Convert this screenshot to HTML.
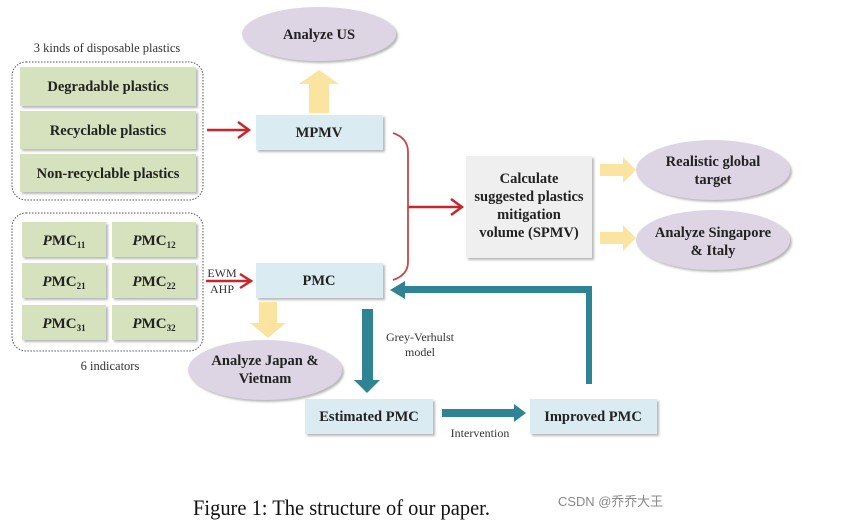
<!DOCTYPE html>
<html><head><meta charset="utf-8"><style>
html,body{margin:0;padding:0;background:#fff;width:848px;height:520px;overflow:hidden}
svg text{font-family:"Liberation Serif",serif}
</style></head><body>
<svg width="848" height="520" viewBox="0 0 848 520" xmlns="http://www.w3.org/2000/svg">
<defs>
<filter id="sh" x="-10%" y="-10%" width="130%" height="140%"><feDropShadow dx="2" dy="2" stdDeviation="1" flood-color="#888" flood-opacity="0.6"/></filter>
</defs>
<!-- group 1 -->
<text x="107" y="52" font-size="12.5" text-anchor="middle" fill="#333">3 kinds of disposable plastics</text>
<rect x="12" y="62" width="191" height="138" rx="14" fill="none" stroke="#555" stroke-dasharray="1.5,1.5"/>
<g filter="url(#sh)" fill="#d6e2bd">
<rect x="20" y="67" width="176" height="39"/><rect x="20" y="111" width="176" height="38"/><rect x="20" y="154" width="176" height="38"/>
</g>
<g font-size="14.5" font-weight="bold" text-anchor="middle" fill="#222">
<text x="108" y="91">Degradable plastics</text>
<text x="108" y="135">Recyclable plastics</text>
<text x="108" y="178">Non-recyclable plastics</text>
</g>
<!-- group 2 -->
<rect x="12" y="213" width="191" height="138" rx="14" fill="none" stroke="#555" stroke-dasharray="1.5,1.5"/>
<g filter="url(#sh)" fill="#d6e2bd">
<rect x="22" y="222" width="84" height="35"/><rect x="112" y="222" width="84" height="35"/>
<rect x="22" y="263" width="84" height="35"/><rect x="112" y="263" width="84" height="35"/>
<rect x="22" y="305" width="84" height="35"/><rect x="112" y="305" width="84" height="35"/>
</g>
<g font-size="15" font-weight="bold" text-anchor="middle" fill="#222">
<text x="64" y="245"><tspan font-style="italic">P</tspan>MC<tspan font-size="9" dy="3">11</tspan></text>
<text x="154" y="245"><tspan font-style="italic">P</tspan>MC<tspan font-size="9" dy="3">12</tspan></text>
<text x="64" y="286"><tspan font-style="italic">P</tspan>MC<tspan font-size="9" dy="3">21</tspan></text>
<text x="154" y="286"><tspan font-style="italic">P</tspan>MC<tspan font-size="9" dy="3">22</tspan></text>
<text x="64" y="328"><tspan font-style="italic">P</tspan>MC<tspan font-size="9" dy="3">31</tspan></text>
<text x="154" y="328"><tspan font-style="italic">P</tspan>MC<tspan font-size="9" dy="3">32</tspan></text>
</g>
<text x="110" y="370" font-size="12.5" text-anchor="middle" fill="#333">6 indicators</text>
<!-- ellipses -->
<g filter="url(#sh)" fill="#ddd5e4">
<ellipse cx="319" cy="34" rx="77" ry="27"/>
<ellipse cx="713" cy="170" rx="77" ry="30"/>
<ellipse cx="713" cy="240" rx="77" ry="30"/>
<ellipse cx="265" cy="370" rx="77" ry="30"/>
</g>
<g font-size="14.5" font-weight="bold" text-anchor="middle" fill="#222">
<text x="319" y="39">Analyze US</text>
<text x="713" y="166">Realistic global</text><text x="713" y="184">target</text>
<text x="713" y="237">Analyze Singapore</text><text x="713" y="255">&amp; Italy</text>
<text x="265" y="365">Analyze Japan &amp;</text><text x="265" y="383">Vietnam</text>
</g>
<!-- blue boxes -->
<g filter="url(#sh)" fill="#dbebf2">
<rect x="256" y="115" width="127" height="35"/>
<rect x="256" y="263" width="127" height="35"/>
<rect x="305" y="399" width="128" height="35"/>
<rect x="530" y="399" width="127" height="35"/>
</g>
<rect x="466" y="156" width="126" height="102" fill="#efefef" filter="url(#sh)"/>
<g font-size="14.5" font-weight="bold" text-anchor="middle" fill="#222">
<text x="319" y="137">MPMV</text>
<text x="319" y="285">PMC</text>
<text x="369" y="421">Estimated PMC</text>
<text x="593" y="421">Improved PMC</text>
<text x="529" y="183">Calculate</text>
<text x="529" y="201">suggested plastics</text>
<text x="529" y="219">mitigation</text>
<text x="529" y="237">volume (SPMV)</text>
</g>
<!-- yellow arrows -->
<g fill="#fbe3a0">
<polygon points="309,113 329,113 329,84 339,84 319,70 299,84 309,84"/>
<polygon points="259,302 277,302 277,323 286,323 268,338 250,323 259,323"/>
<polygon points="600,164 623,164 623,157 636,170 623,183 623,176 600,176"/>
<polygon points="600,232 623,232 623,225 636,238 623,251 623,244 600,244"/>
</g>
<!-- red arrows -->
<g stroke="#c8262b" stroke-width="2.5" fill="none">
<line x1="207" y1="130" x2="248" y2="130"/><polyline points="238,122 249,130 238,138"/>
<line x1="206" y1="281" x2="249" y2="281"/><polyline points="240,274 251,281 240,288"/>
<line x1="408" y1="207" x2="461" y2="207"/><polyline points="451,199 462,207 451,215"/>
</g>
<path d="M393,133 Q408,138 408,152 L408,262 Q408,275 393,280" stroke="#c8464a" stroke-width="1.8" fill="none"/>
<text x="222" y="277" font-size="12" text-anchor="middle" fill="#333">EWM</text>
<text x="222" y="293" font-size="12" text-anchor="middle" fill="#333">AHP</text>
<!-- teal arrows -->
<g fill="#2e8395">
<polygon points="362,309 373,309 373,380 380,380 367,393 354,380 362,380"/>
<polygon points="442,409 514,409 514,404 526,413 514,422 514,417 442,417"/>
<polygon points="586,384 592,384 592,286 405,286 405,281 390,290 405,299 405,293 586,293"/>
</g>
<text x="420" y="341" font-size="12" text-anchor="middle" fill="#333">Grey-Verhulst</text>
<text x="420" y="356" font-size="12" text-anchor="middle" fill="#333">model</text>
<text x="480" y="437" font-size="12" text-anchor="middle" fill="#333">Intervention</text>
<!-- caption -->
<text x="193" y="515" font-size="22" fill="#111" textLength="297" lengthAdjust="spacingAndGlyphs">Figure 1: The structure of our paper.</text>
<text x="558" y="506" font-size="13" fill="#888" textLength="105" lengthAdjust="spacingAndGlyphs" style="font-family:'Liberation Sans','Noto Sans CJK SC',sans-serif">CSDN @乔乔大王</text>
</svg>
</body></html>
